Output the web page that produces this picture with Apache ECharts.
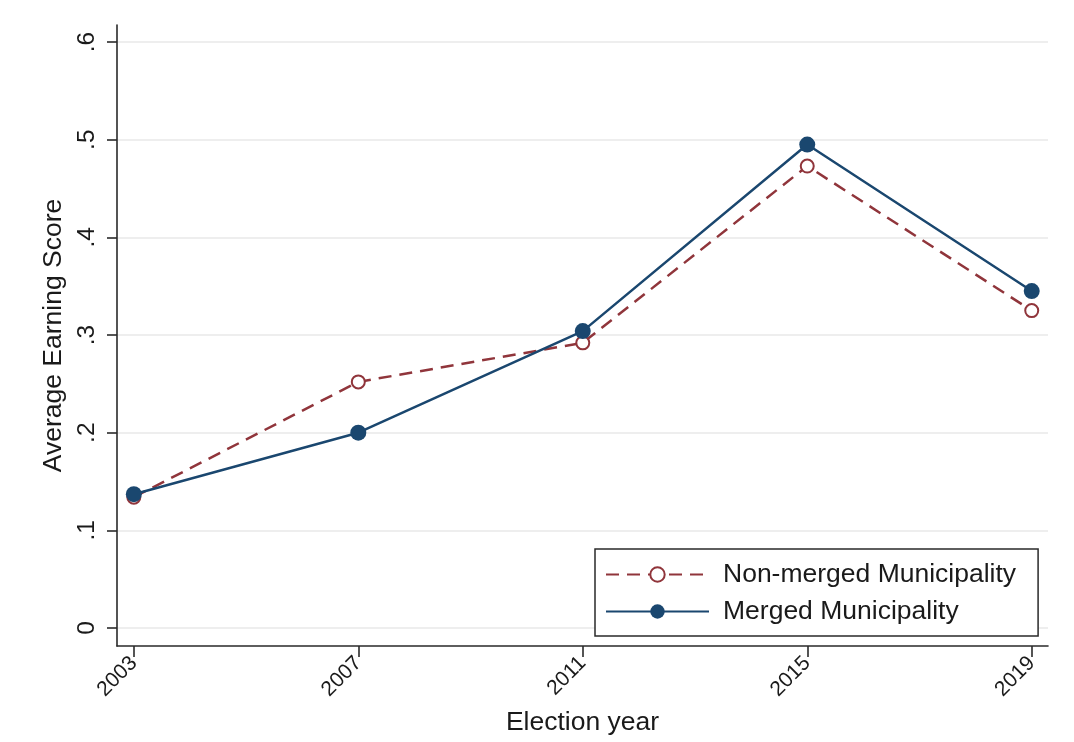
<!DOCTYPE html>
<html>
<head>
<meta charset="utf-8">
<script src="https://cdn.jsdelivr.net/npm/echarts@6/dist/echarts.min.js"></script>
<style>
  html, body { margin: 0; padding: 0; background: #fff; }
  #chart { width: 1074px; height: 742px; }
</style>
</head>
<body>
<div id="chart"></div>
<script>
// 选举年份
var years = [2003, 2007, 2011, 2015, 2019];
// 未合并 / 合并 市镇平均得分
var nonMerged = [0.134, 0.252, 0.292, 0.473, 0.325];
var merged = [0.137, 0.200, 0.304, 0.495, 0.345];
// y轴刻度
var yTicks = [0, 0.1, 0.2, 0.3, 0.4, 0.5, 0.6];

var navy = '#1a476f';
var maroon = '#90353b';
var font = '"Liberation Sans", Arial, sans-serif';

function pairs(vals) {
	var out = [];
	for (var i = 0; i < years.length; i++) {
		out.push([years[i], vals[i]]);
	}
	return out;
}

var chart = echarts.init(document.getElementById('chart'));

var option = {
	backgroundColor: '#fff',
	animation: false,
	textStyle: { fontFamily: font, color: '#1a1a1a' },
	grid: { left: 117, right: 26, top: 25, bottom: 96, containLabel: false },
	xAxis: {
		type: 'value',
		min: 2002.7,
		max: 2019.29,
		name: 'Election year',
		nameLocation: 'middle',
		nameGap: 63,
		nameTextStyle: { fontSize: 26.5, color: '#1a1a1a', fontFamily: font },
		axisLine: { show: true, onZero: false, lineStyle: { color: '#2a2a2a', width: 1.6 } },
		axisTick: { show: true, length: 11, customValues: years, lineStyle: { color: '#2a2a2a', width: 1.6 } },
		axisLabel: {
			customValues: years,
			rotate: 45,
			margin: 14,
			fontSize: 21,
			color: '#1a1a1a',
			formatter: function (v) { return String(v); }
		},
		splitLine: { show: false }
	},
	yAxis: {
		type: 'value',
		min: -0.0184,
		max: 0.6174,
		name: 'Average Earning Score',
		nameLocation: 'middle',
		nameGap: 44,
		nameTextStyle: { fontSize: 26.5, color: '#1a1a1a', fontFamily: font },
		axisLine: { show: true, onZero: false, lineStyle: { color: '#2a2a2a', width: 1.6 } },
		axisTick: { show: true, length: 10, customValues: yTicks, lineStyle: { color: '#2a2a2a', width: 1.6 } },
		axisLabel: {
			customValues: yTicks,
			rotate: 90,
			margin: 17,
			fontSize: 24.5,
			color: '#1a1a1a',
			formatter: function (v) {
				if (Math.abs(v) < 1e-9) return '0';
				return v.toFixed(1).replace(/^0/, '');
			}
		},
		splitLine: { show: true, lineStyle: { color: '#e8e8e8', width: 1.6 } }
	},
	legend: {
		orient: 'vertical',
		left: 595,
		top: 549,
		backgroundColor: '#fff',
		borderColor: '#2a2a2a',
		borderWidth: 1.5,
		borderRadius: 0,
		padding: [12, 22, 11, 10],
		itemWidth: 103,
		itemHeight: 18,
		itemGap: 10,
		textStyle: { fontSize: 26.5, color: '#1a1a1a', fontFamily: font, padding: [0, 0, 0, 9] },
		data: ['Non-merged Municipality', 'Merged Municipality']
	},
	series: [
		{
			name: 'Non-merged Municipality',
			type: 'line',
			data: pairs(nonMerged),
			symbol: 'circle',
			symbolSize: 13,
			z: 2,
			lineStyle: { color: maroon, width: 2.5, type: [13, 8] },
			itemStyle: { color: '#fff', borderColor: maroon, borderWidth: 2 }
		},
		{
			name: 'Merged Municipality',
			type: 'line',
			data: pairs(merged),
			symbol: 'circle',
			symbolSize: 16,
			z: 3,
			lineStyle: { color: navy, width: 2.5 },
			itemStyle: { color: navy, borderColor: navy, borderWidth: 0 }
		}
	]
};

chart.setOption(option);
</script>
</body>
</html>
